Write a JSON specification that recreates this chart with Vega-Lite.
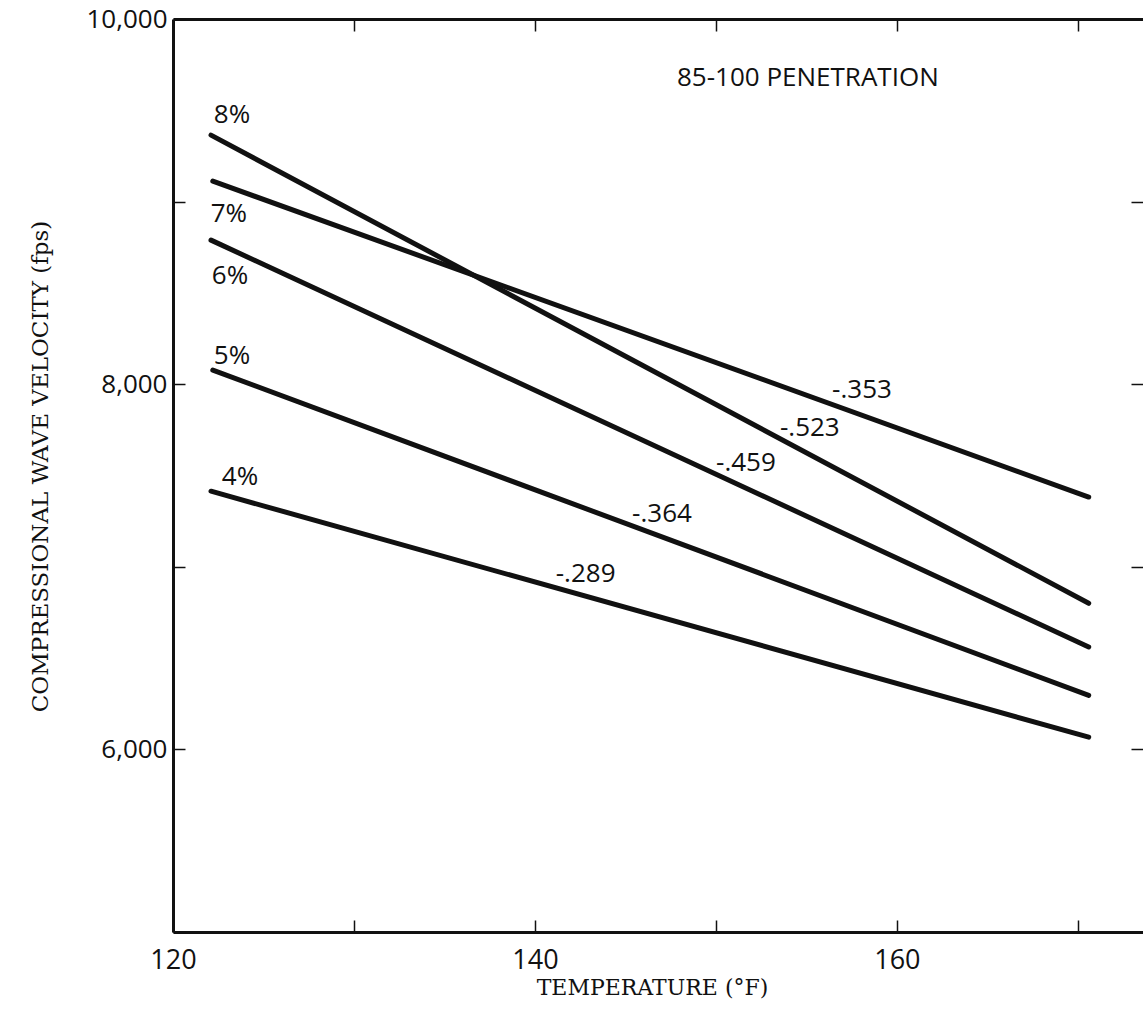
{
  "$schema": "https://vega.github.io/schema/vega-lite/v6.json",
  "autosize": {"type": "none"},
  "padding": {"left": 173, "top": 19, "right": 0, "bottom": 83},
  "width": 970,
  "height": 913,
  "background": "white",
  "config": {"view": {"stroke": null}},
  "datasets": {
    "lines": [
      {"series": "8%", "temp": 122.1, "vel": 9364},
      {"series": "8%", "temp": 170.6, "vel": 6800},
      {"series": "7%", "temp": 122.2, "vel": 9112},
      {"series": "7%", "temp": 170.6, "vel": 7382},
      {"series": "6%", "temp": 122.1, "vel": 8789},
      {"series": "6%", "temp": 170.6, "vel": 6561},
      {"series": "5%", "temp": 122.2, "vel": 8077},
      {"series": "5%", "temp": 170.6, "vel": 6296},
      {"series": "4%", "temp": 122.1, "vel": 7414},
      {"series": "4%", "temp": 170.6, "vel": 6067}
    ],
    "labels": [
      {"label": "8%", "lt": 123.26, "lv": 9474},
      {"label": "7%", "lt": 123.09, "lv": 8932},
      {"label": "6%", "lt": 123.15, "lv": 8593},
      {"label": "5%", "lt": 123.26, "lv": 8154},
      {"label": "4%", "lt": 123.7, "lv": 7492},
      {"label": "-.353", "lt": 158.07, "lv": 7968},
      {"label": "-.523", "lt": 155.19, "lv": 7760},
      {"label": "-.459", "lt": 151.66, "lv": 7568},
      {"label": "-.364", "lt": 147.02, "lv": 7289},
      {"label": "-.289", "lt": 142.8, "lv": 6962},
      {"label": "85-100 PENETRATION", "lt": 155.08, "lv": 9677}
    ]
  },
  "layer": [
    {
      "data": {"name": "lines"},
      "mark": {"type": "line", "color": "#111111", "strokeWidth": 5, "strokeCap": "round"},
      "encoding": {
        "x": {
          "field": "temp", "type": "quantitative",
          "scale": {"domain": [120, 173.6], "nice": false, "zero": false},
          "axis": {
            "orient": "bottom",
            "title": "TEMPERATURE (°F)",
            "titleFont": "DejaVu Serif", "titleFontSize": 22, "titleFontWeight": "normal", "titleColor": "#111",
            "titleX": 479, "titleY": 55, "titleBaseline": "middle", "titleAnchor": null,
            "values": [120, 130, 140, 150, 160, 170],
            "labelExpr": "datum.value % 20 == 0 ? format(datum.value, 'd') : ''",
            "labelFont": "Open Sans", "labelFontSize": 27, "labelColor": "#111",
            "labelPadding": 27, "labelFlush": false, "labelOverlap": false, "labelBound": false,
            "tickSize": -12, "tickColor": "#111", "tickWidth": 1.5,
            "domainColor": "#111", "domainWidth": 3,
            "grid": false
          }
        },
        "y": {
          "field": "vel", "type": "quantitative",
          "scale": {"domain": [5000, 10000], "nice": false, "zero": false},
          "axis": {
            "orient": "left",
            "title": "COMPRESSIONAL WAVE VELOCITY (fps)",
            "titleFont": "DejaVu Serif", "titleFontSize": 23, "titleFontWeight": "normal", "titleColor": "#111",
            "titleX": -133, "titleY": 447, "titleBaseline": "middle", "titleAnchor": null, "titleAngle": -90,
            "values": [5000, 6000, 7000, 8000, 9000, 10000],
            "labelExpr": "datum.value % 2000 == 0 && datum.value > 5000 ? format(datum.value, ',') : ''",
            "labelFont": "Open Sans", "labelFontSize": 26, "labelColor": "#111",
            "labelPadding": 18, "labelFlush": false, "labelOverlap": false, "labelBound": false,
            "tickSize": -12, "tickColor": "#111", "tickWidth": 1.5,
            "domainColor": "#111", "domainWidth": 3,
            "grid": false
          }
        },
        "detail": {"field": "series", "type": "nominal"}
      }
    },
    {
      "data": {"name": "labels"},
      "mark": {"type": "text", "font": "Open Sans", "fontSize": 26, "color": "#111", "align": "center", "baseline": "middle"},
      "encoding": {
        "x": {
          "field": "lt", "type": "quantitative",
          "axis": {
            "orient": "top", "title": null, "labels": false,
            "values": [130, 140, 150, 160, 170],
            "tickSize": -12, "tickColor": "#111", "tickWidth": 1.5,
            "domainColor": "#111", "domainWidth": 3, "grid": false
          }
        },
        "y": {
          "field": "lv", "type": "quantitative",
          "axis": {
            "orient": "right", "title": null, "labels": false,
            "values": [6000, 7000, 8000, 9000],
            "tickSize": -12, "tickColor": "#111", "tickWidth": 1.5,
            "domain": false, "grid": false
          }
        },
        "text": {"field": "label"}
      }
    }
  ],
  "resolve": {"axis": {"x": "independent", "y": "independent"}}
}
